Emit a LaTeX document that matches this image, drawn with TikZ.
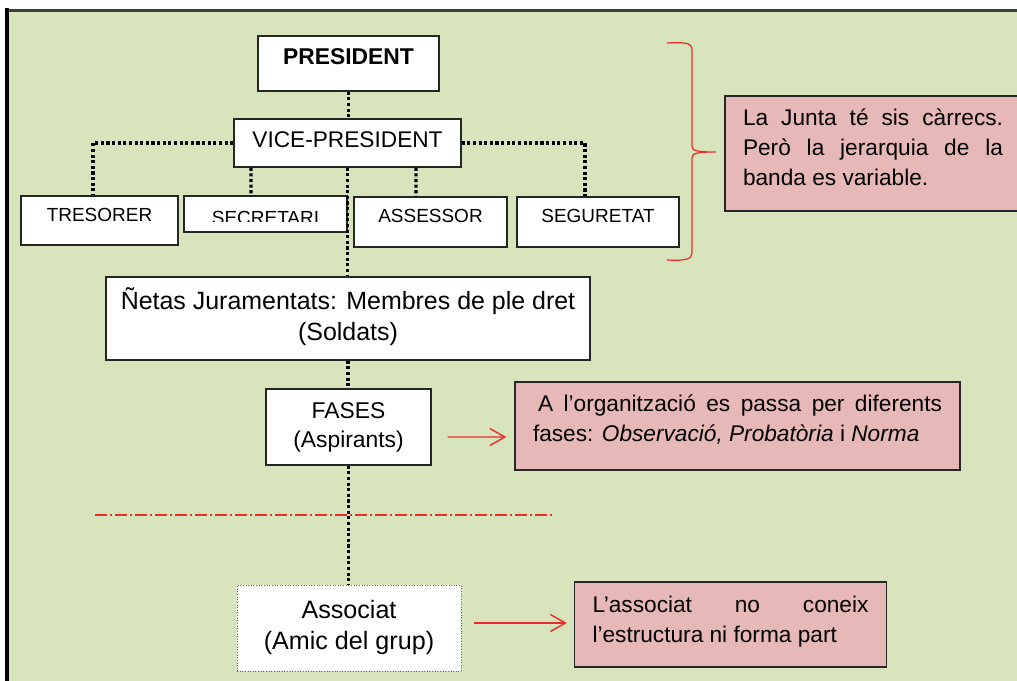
\documentclass[tikz,border=0pt]{standalone}
\usepackage{fontspec}
\setmainfont{Liberation Sans}
\usepackage{tikz}
\usetikzlibrary{arrows.meta}

\definecolor{fonsverd}{RGB}{216,228,188}
\definecolor{rosa}{RGB}{230,184,183}
\definecolor{vermell}{RGB}{236,44,44}

\tikzset{
  carrec/.style={rectangle, draw=black!85, fill=white, line width=0.8pt, inner sep=0pt},
  nota/.style={rectangle, draw=black!85, fill=rosa, line width=0.8pt, inner ysep=0pt,
    inner xsep=0.36cm, align=justify, font=\fontsize{12.9}{17}\selectfont},
  puntejat/.style={draw=black, line width=1.9pt, dash pattern=on 1.8pt off 1.4pt},
  fletxa/.style={draw=vermell, line width=0.8pt, -{Straight Barb[length=0.3cm, width=0.34cm]}}
}

\begin{document}
\begin{tikzpicture}
      \useasboundingbox (0, 0) rectangle (20.34, 13.62);
      \clip (0, 0) rectangle (20.34, 13.62);
      \fill[white] (0, 0) rectangle (20.34, 13.62);
      \fill[fonsverd] (0.14, 0) rectangle (20.34, 13.41);
      \draw[black!75, line width=1.2pt] (0.14, 13.41) -- (20.34, 13.41);
      \draw[black, line width=2.3pt] (0.14, 0) -- (0.14, 13.45);

      \draw[vermell, line width=1.1pt, dash pattern=on 0.24cm off 0.06cm on 0.04cm off 0.06cm]
        (1.90, 3.32) -- (11.04, 3.32);

      \node (P) [carrec, minimum width=3.62cm, text height=0.58cm, text depth=0.52cm,
        font=\fontsize{13}{15}\selectfont\bfseries] at (6.97, 12.35) {PRESIDENT};
      \node (V) [carrec, minimum width=4.54cm, text height=0.58cm, text depth=0.38cm,
        font=\fontsize{12.9}{15}\selectfont] at (6.95, 10.76) {VICE-PRESIDENT};

      \node (T) [carrec, minimum width=3.14cm, text height=0.52cm, text depth=0.46cm,
        font=\fontsize{10.8}{13}\selectfont] at (1.99, 9.21) {TRESORER};
      \node (S) [carrec, minimum width=3.26cm, text height=0.58cm, text depth=0.14cm,
        font=\fontsize{10.8}{13}\selectfont] at (5.31, 9.34) {SECRETARI};
      \node (A) [carrec, minimum width=3.06cm, text height=0.52cm, text depth=0.48cm,
        font=\fontsize{10.8}{13}\selectfont] at (8.61, 9.18) {ASSESSOR};
      \node (G) [carrec, minimum width=3.24cm, text height=0.52cm, text depth=0.48cm,
        font=\fontsize{10.8}{13}\selectfont] at (11.96, 9.18) {SEGURETAT};
      \fill[white] (3.70, 9.00) rectangle (6.92, 9.18);

      \node (N) [carrec, minimum width=9.68cm, minimum height=1.66cm,
        font=\fontsize{14.2}{17.6}\selectfont] at (6.96, 7.25) {
        \begin{tabular}{c}
          Ñetas Juramentats: Membres de ple dret \\
          (Soldats)
        \end{tabular}
      };
      \node (F) [carrec, minimum width=3.30cm, minimum height=1.52cm,
        font=\fontsize{13}{17}\selectfont] at (6.97, 5.08) {
        \begin{tabular}{c}
          FASES \\
          (Aspirants)
        \end{tabular}
      };
      \node (X) [carrec, draw=black!60, line width=0.5pt, densely dotted,
        minimum width=4.48cm, minimum height=1.72cm,
        font=\fontsize{14.3}{17.6}\selectfont] at (6.98, 1.06) {
        \begin{tabular}{c}
          Associat \\
          (Amic del grup)
        \end{tabular}
      };

      \node (J) [nota, text width=5.20cm, text height=0.60cm, text depth=1.70cm] at (17.46, 10.55) {
        La Junta té sis càrrecs.\linebreak Però la jerarquia de la\linebreak banda es variable.
      };
      \node (O) [nota, text width=8.18cm, text height=0.60cm, text depth=1.16cm] at (14.75, 5.10) {
        \hspace*{0.1cm}A l'organització es passa per diferents\linebreak
        fases: \textit{Observació, Probatòria} i \textit{Norma}
      };
      \node (E) [nota, text width=5.52cm, text height=0.62cm, text depth=1.08cm] at (14.61, 1.13) {
        L'associat no coneix\linebreak l'estructura ni forma part
      };

      \draw[puntejat] (P.south) -- (P.south |- V.north);
      \draw[puntejat] (V.west) -| ([xshift=-0.13cm]T.north);
      \draw[puntejat] (V.east) -| ([xshift=-0.26cm]G.north);
      \draw[puntejat] ([xshift=-1.93cm]V.south) -- ([xshift=-0.29cm]S.north);
      \draw[puntejat] ([xshift=1.37cm]V.south) -- ([xshift=-0.29cm]A.north);
      \draw[puntejat] (V.south) -- (V.south |- N.north);
      \draw[puntejat] (N.south) -- (N.south |- F.north);
      \draw[puntejat] (F.south) -- (F.south |- X.north);

      \draw[fletxa] ([xshift=0.32cm, yshift=-0.2cm]F.east) -- ([xshift=-0.16cm, yshift=-0.22cm]O.west);
      \draw[fletxa] ([xshift=0.26cm, yshift=0.10cm]X.east) -- ([xshift=-0.14cm, yshift=0.03cm]E.west);

      \draw[vermell, line width=0.7pt] (13.34, 12.76)
        .. controls (13.72, 12.78) and (13.84, 12.76) .. (13.84, 12.62) -- (13.84, 10.70)
        .. controls (13.84, 10.60) and (13.95, 10.58) .. (14.32, 10.58)
        .. controls (13.95, 10.58) and (13.84, 10.56) .. (13.84, 10.46) -- (13.84, 8.56)
        .. controls (13.84, 8.44) and (13.72, 8.40) .. (13.34, 8.42);
    \end{tikzpicture}
\end{document}
